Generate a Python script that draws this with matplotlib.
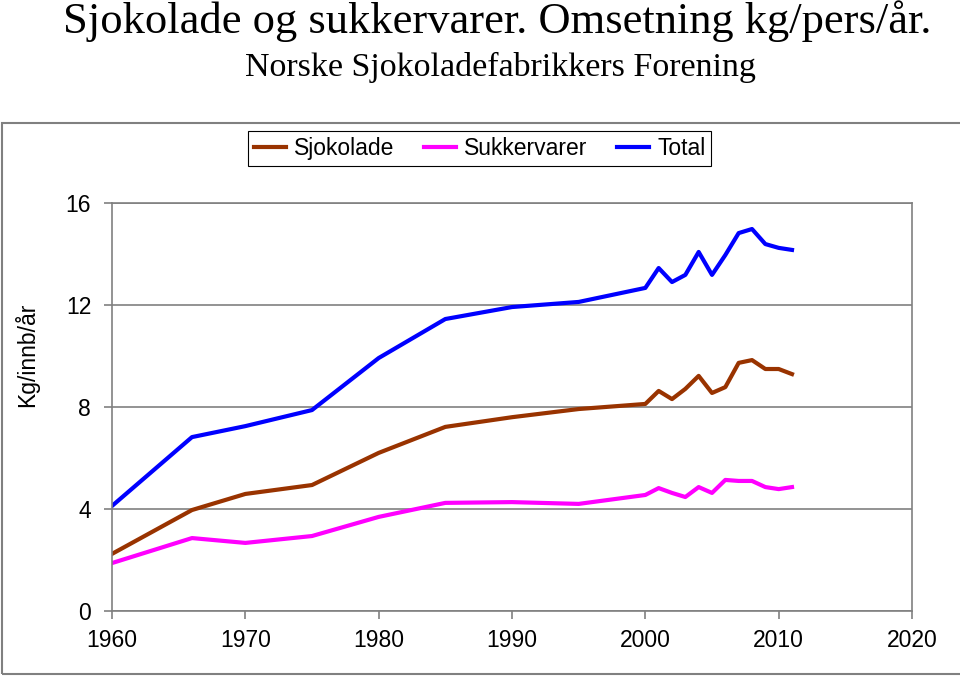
#!/usr/bin/env python3
import matplotlib
matplotlib.use("Agg")
import matplotlib.pyplot as plt
from matplotlib.patches import Rectangle

# years and kg per inhabitant
years = [1960, 1966, 1970, 1975, 1980, 1985, 1990, 1995, 2000,
         2001, 2002, 2003, 2004, 2005, 2006, 2007, 2008, 2009, 2010, 2011]
sjokolade = [2.24, 3.96, 4.59, 4.94, 6.2, 7.22, 7.6, 7.92, 8.12,
             8.63, 8.31, 8.71, 9.22, 8.55, 8.78, 9.73, 9.84, 9.49, 9.49, 9.29]
sukkervarer = [1.88, 2.86, 2.67, 2.94, 3.69, 4.24, 4.27, 4.2, 4.55,
               4.82, 4.63, 4.47, 4.86, 4.63, 5.14, 5.1, 5.1, 4.86, 4.78, 4.86]
total = [4.12, 6.82, 7.25, 7.88, 9.92, 11.45, 11.92, 12.12, 12.67,
         13.45, 12.9, 13.18, 14.08, 13.18, 13.96, 14.82, 14.98, 14.39, 14.24, 14.16]

x_ticks = [1960, 1970, 1980, 1990, 2000, 2010, 2020]
y_ticks = [0, 4, 8, 12, 16]

sans = ["Liberation Sans", "DejaVu Sans"]
serif = ["Liberation Serif", "DejaVu Serif"]


def main():
	fig = plt.figure(figsize=(9.6, 6.76), dpi=100)
	fig.patch.set_facecolor("white")

	# outer frame of the chart area
	fig.patches.append(Rectangle((2 / 960, 2 / 676), 1.2, 1 - 125 / 676,
	                             transform=fig.transFigure, fill=False,
	                             edgecolor="#808080", linewidth=1.5))

	fig.text(497 / 960, 1 - 33 / 676, "Sjokolade og sukkervarer. Omsetning kg/pers/år.",
	         ha="center", va="baseline", fontsize=32, family=serif)
	fig.text(500 / 960, 1 - 76 / 676, "Norske Sjokoladefabrikkers Forening",
	         ha="center", va="baseline", fontsize=24.5, family=serif)

	ax = fig.add_axes([112 / 960, 1 - 611 / 676, 800 / 960, 408 / 676])
	ax.plot(years, sjokolade, color="#993300", lw=3, label="Sjokolade")
	ax.plot(years, sukkervarer, color="#FF00FF", lw=3, label="Sukkervarer")
	ax.plot(years, total, color="#0000FF", lw=3, label="Total")

	ax.set_xlim(1960, 2020)
	ax.set_ylim(0, 16)
	ax.set_xticks(x_ticks)
	ax.set_yticks(y_ticks)
	ax.grid(axis="y", color="#808080", lw=1.2)
	ax.set_axisbelow(True)
	for s in ax.spines.values():
		s.set_color("#808080")
		s.set_linewidth(1.2)
	ax.tick_params(color="#808080", labelcolor="black", labelsize=16.5,
	               length=6, width=1.2)
	for t in ax.get_xticklabels() + ax.get_yticklabels():
		t.set_family(sans)
	ax.tick_params(axis="x", pad=7)
	ax.tick_params(axis="y", pad=9)

	fig.text(27 / 960, 1 - 355 / 676, "Kg/innb/år", rotation=90,
	         ha="center", va="center", fontsize=16.5, family=sans)

	leg = ax.legend(loc="center", bbox_to_anchor=(479.5 / 960, 1 - 148.5 / 676),
	                bbox_transform=fig.transFigure, ncol=3, fancybox=False,
	                framealpha=1, edgecolor="black", handlelength=1.4,
	                handletextpad=0.35, columnspacing=1.3, borderpad=0.25,
	                prop={"family": sans, "size": 16.5})
	leg.get_frame().set_linewidth(0.8)

	fig.savefig("out.png", dpi=100)


if __name__ == "__main__":
	main()
